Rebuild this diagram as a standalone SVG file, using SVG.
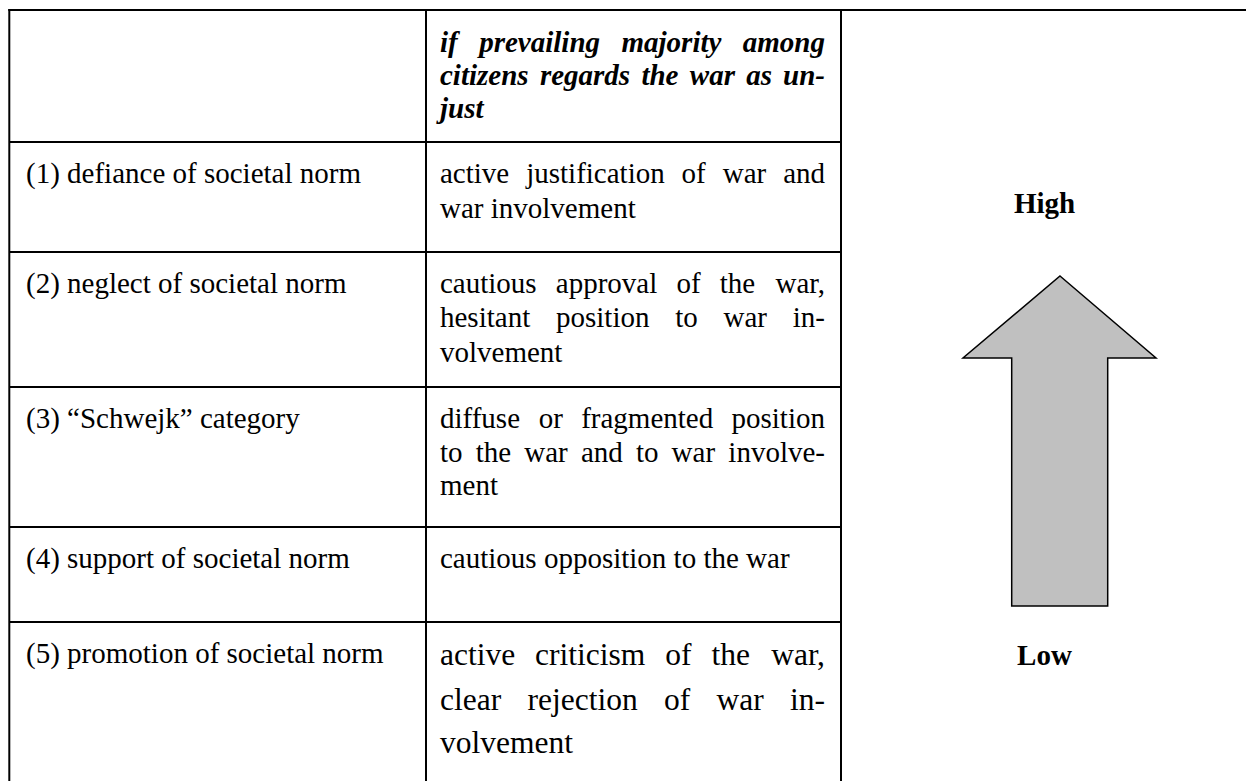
<svg xmlns="http://www.w3.org/2000/svg" width="1246" height="781" viewBox="0 0 1246 781">
<style>
  .grid line { stroke: #000; stroke-width: 2; }
  .t { font-family: "Liberation Serif", "Times New Roman", serif; font-size: 29px; fill: #000; }
  .hd { font-weight: bold; font-style: italic; }
  .big { font-size: 31.5px; }
  .lbl { font-family: "Liberation Serif", "Times New Roman", serif; font-size: 29px; font-weight: bold; fill: #000; text-anchor: middle; }
  .arrow { fill: #c0c0c0; stroke: #000; stroke-width: 1.5; stroke-linejoin: miter; }
</style>
<rect x="0" y="0" width="1246" height="781" fill="#fff"/>
<g id="grid" class="grid">
  <line x1="8.3" y1="10" x2="1246" y2="10"/>
  <line x1="9.3" y1="9" x2="9.3" y2="781"/>
  <line x1="426" y1="10" x2="426" y2="781"/>
  <line x1="841" y1="10" x2="841" y2="781"/>
  <line x1="9.3" y1="142" x2="841" y2="142"/>
  <line x1="9.3" y1="252" x2="841" y2="252"/>
  <line x1="9.3" y1="387" x2="841" y2="387"/>
  <line x1="9.3" y1="527" x2="841" y2="527"/>
  <line x1="9.3" y1="622" x2="841" y2="622"/>
</g>
<g id="header">
  <text class="t hd" y="52"><tspan x="440">if</tspan><tspan x="479.2">prevailing</tspan><tspan x="621.5">majority</tspan><tspan x="825" text-anchor="end">among</tspan></text>
  <text class="t hd" y="85"><tspan x="440">citizens</tspan><tspan x="539.9">regards</tspan><tspan x="641.4">the</tspan><tspan x="689.8">war</tspan><tspan x="746.2">as</tspan><tspan x="825" text-anchor="end">un-</tspan></text>
  <text class="t hd" x="440" y="118">just</text>
</g>
<g id="row1">
  <text class="t" x="26" y="183">(1) defiance of societal norm</text>
  <text class="t" y="183"><tspan x="440">active</tspan><tspan x="526.2">justification</tspan><tspan x="681.6">of</tspan><tspan x="722.7">war</tspan><tspan x="825" text-anchor="end">and</tspan></text>
  <text class="t" x="440" y="218">war involvement</text>
</g>
<g id="row2">
  <text class="t" x="26" y="293">(2) neglect of societal norm</text>
  <text class="t" y="293"><tspan x="440">cautious</tspan><tspan x="555.8">approval</tspan><tspan x="676.4">of</tspan><tspan x="719.7">the</tspan><tspan x="825" text-anchor="end">war,</tspan></text>
  <text class="t" y="327"><tspan x="440">hesitant</tspan><tspan x="556">position</tspan><tspan x="675.2">to</tspan><tspan x="723.5">war</tspan><tspan x="825" text-anchor="end">in-</tspan></text>
  <text class="t" x="440" y="362">volvement</text>
</g>
<g id="row3">
  <text class="t" x="26" y="428">(3) “Schwejk” category</text>
  <text class="t" y="428"><tspan x="440">diffuse</tspan><tspan x="538.8">or</tspan><tspan x="581.2">fragmented</tspan><tspan x="825" text-anchor="end">position</tspan></text>
  <text class="t" y="462"><tspan x="440">to</tspan><tspan x="475.7">the</tspan><tspan x="524.3">war</tspan><tspan x="580.9">and</tspan><tspan x="635.9">to</tspan><tspan x="671.6">war</tspan><tspan x="825" text-anchor="end">involve-</tspan></text>
  <text class="t" x="440" y="495">ment</text>
</g>
<g id="row4">
  <text class="t" x="26" y="568">(4) support of societal norm</text>
  <text class="t" x="440" y="568">cautious opposition to the war</text>
</g>
<g id="row5">
  <text class="t" x="26" y="663">(5) promotion of societal norm</text>
  <text class="t big" y="665"><tspan x="440">active</tspan><tspan x="535.1">criticism</tspan><tspan x="665.3">of</tspan><tspan x="711.5">the</tspan><tspan x="825" text-anchor="end">war,</tspan></text>
  <text class="t big" y="710"><tspan x="440">clear</tspan><tspan x="527.5">rejection</tspan><tspan x="664">of</tspan><tspan x="716.5">war</tspan><tspan x="825" text-anchor="end">in-</tspan></text>
  <text class="t big" x="440" y="753">volvement</text>
</g>
<g id="scale">
  <text class="lbl" x="1044.5" y="213">High</text>
  <polygon class="arrow" points="1060,276 1156,358 1107.7,358 1107.7,606 1011.7,606 1011.7,358 963,358"/>
  <text class="lbl" x="1044.5" y="665">Low</text>
</g>
</svg>
